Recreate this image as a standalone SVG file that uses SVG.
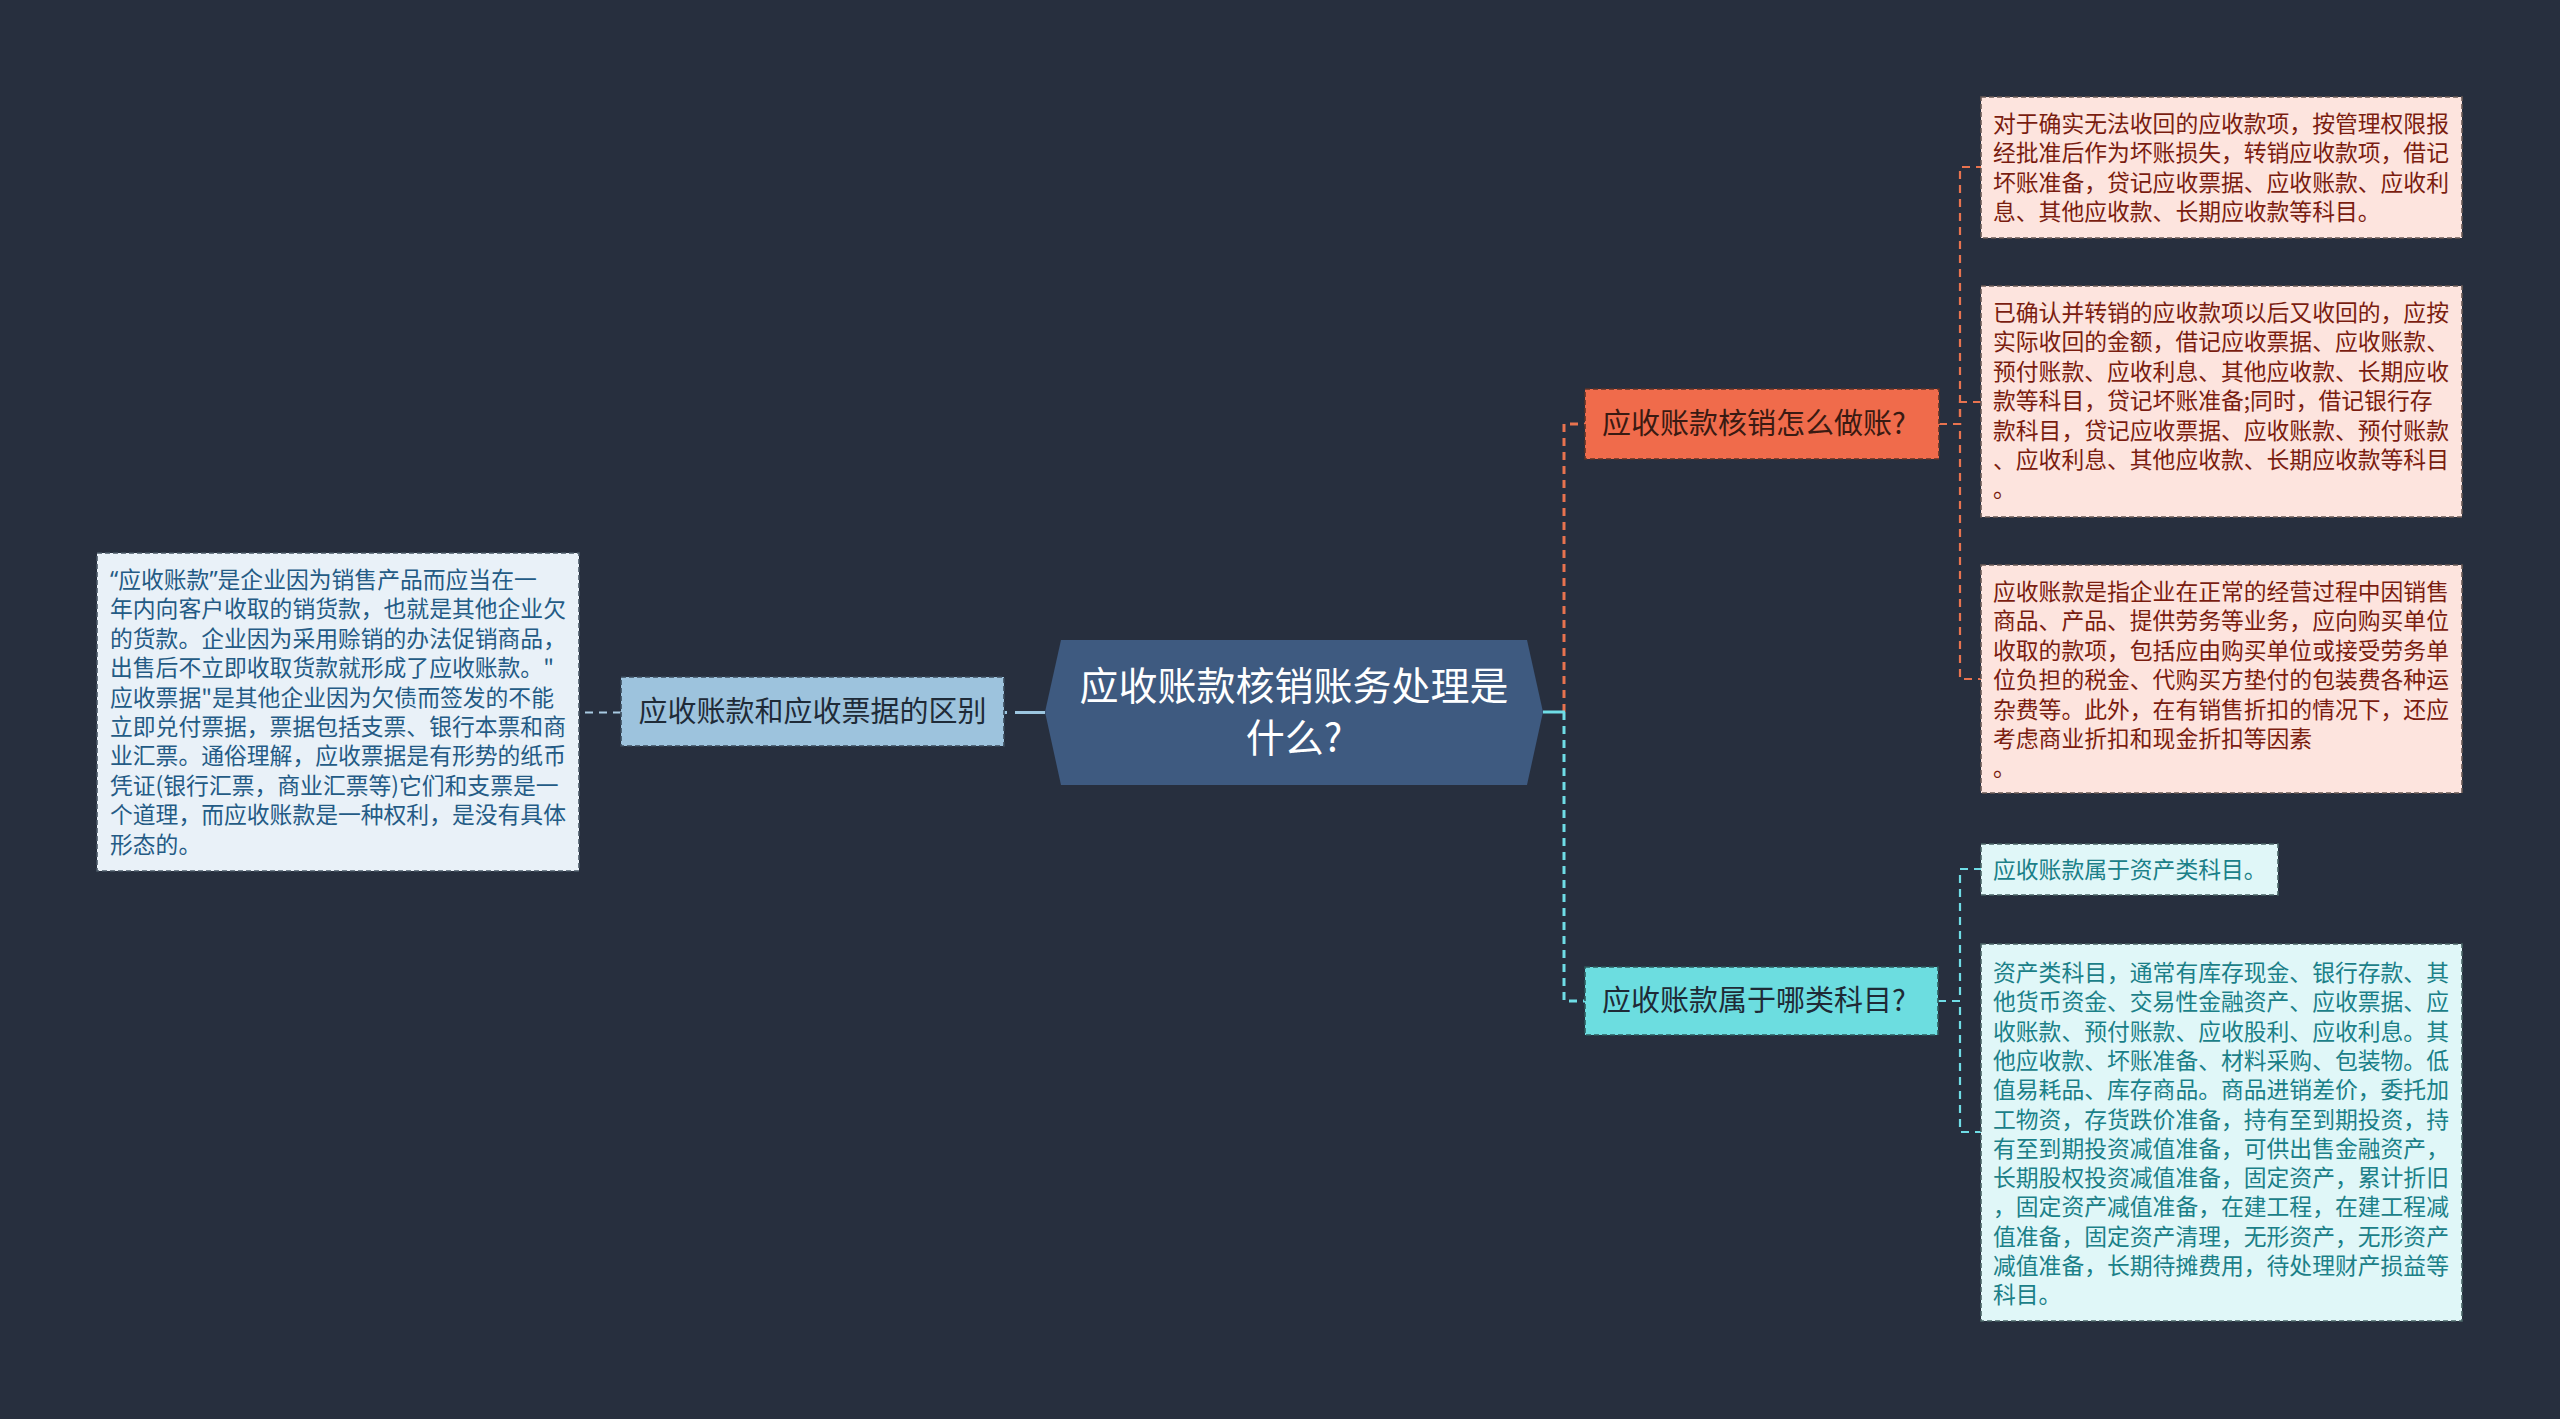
<svg xmlns="http://www.w3.org/2000/svg" width="2560" height="1419" viewBox="0 0 2560 1419">
<style>
text{font-family:"Noto Sans CJK SC","Noto Sans",sans-serif;}
.d{font-size:22.8px;}
.t{font-size:29px;}
.c{font-size:39px;fill:#ffffff;}
.q{font-family:"Noto Sans","Liberation Sans",sans-serif;}
.bd{stroke-width:1.6;stroke-dasharray:5 3;}
.ln{fill:none;stroke-dasharray:8 6;}
</style>
<rect x="0" y="0" width="2560" height="1419" fill="#272f3e"/>
<g id="connectors">
  <path class="ln" d="M621,712.5 H579" stroke="#a9cbe2" stroke-width="2"/>
  <path d="M1045,712.5 H1004" fill="none" stroke="#9cc6e0" stroke-width="3" stroke-dasharray="30 8"/>
  <path class="ln" d="M1564,712 V424 H1585" stroke="#e8734f" stroke-width="3"/>
  <path class="ln" d="M1564,712 V1001 H1585" stroke="#6fdde6" stroke-width="3"/>
  <path d="M1543,712 H1565" fill="none" stroke="#6fdde6" stroke-width="3"/>
  <path class="ln" d="M1939,424 H1960 V167 H1981" stroke="#e8734f" stroke-width="2.2"/>
  <path class="ln" d="M1939,424 H1960 V402 H1981" stroke="#e8734f" stroke-width="2.2"/>
  <path class="ln" d="M1939,424 H1960 V679 H1981" stroke="#e8734f" stroke-width="2.2"/>
  <path class="ln" d="M1938,1001 H1960 V869 H1981" stroke="#6fdde6" stroke-width="2.2"/>
  <path class="ln" d="M1938,1001 H1960 V1132 H1981" stroke="#6fdde6" stroke-width="2.2"/>
</g>
<g id="center">
  <polygon points="1045,712 1061,640 1527,640 1543,712 1527,785 1061,785" fill="#3e5a80"/>
  <text class="c" x="1294" y="700" text-anchor="middle">应收账款核销账务处理是</text>
  <text class="c" x="1294" y="752" text-anchor="middle">什么?</text>
</g>
<g id="left-node">
  <rect class="bd" x="621" y="677" width="383" height="69" fill="#9dc3dd" stroke="#3a4a5a"/>
  <text class="t" x="812.5" y="722" text-anchor="middle" fill="#1f2b38">应收账款和应收票据的区别</text>
</g>
<g id="left-detail">
  <rect class="bd" x="97" y="553" width="482" height="318" fill="#e9f1f8" stroke="#4a5866"/>
  <text class="d" fill="#245b85">
    <tspan x="110" y="588"><tspan class="q">“</tspan>应收账款<tspan class="q">”</tspan>是企业因为销售产品而应当在一</tspan>
    <tspan x="110" y="617.4">年内向客户收取的销货款，也就是其他企业欠</tspan>
    <tspan x="110" y="646.8">的货款。企业因为采用赊销的办法促销商品，</tspan>
    <tspan x="110" y="676.2">出售后不立即收取货款就形成了应收账款。"</tspan>
    <tspan x="110" y="705.6">应收票据"是其他企业因为欠债而签发的不能</tspan>
    <tspan x="110" y="735">立即兑付票据，票据包括支票、银行本票和商</tspan>
    <tspan x="110" y="764.4">业汇票。通俗理解，应收票据是有形势的纸币</tspan>
    <tspan x="110" y="793.8">凭证(银行汇票，商业汇票等)它们和支票是一</tspan>
    <tspan x="110" y="823.2">个道理，而应收账款是一种权利，是没有具体</tspan>
    <tspan x="110" y="852.6">形态的。</tspan>
  </text>
</g>
<g id="orange-node">
  <rect class="bd" x="1585" y="389" width="354" height="70" fill="#f06b4b" stroke="#5a3328"/>
  <text class="t" x="1602" y="434" fill="#3a1a12">应收账款核销怎么做账?</text>
</g>
<g id="pink-1">
  <rect class="bd" x="1981" y="97" width="481" height="141" fill="#fde4de" stroke="#6a5a56"/>
  <text class="d" fill="#7a1d10">
    <tspan x="1993" y="132">对于确实无法收回的应收款项，按管理权限报</tspan>
    <tspan x="1993" y="161.4">经批准后作为坏账损失，转销应收款项，借记</tspan>
    <tspan x="1993" y="190.8">坏账准备，贷记应收票据、应收账款、应收利</tspan>
    <tspan x="1993" y="220.2">息、其他应收款、长期应收款等科目。</tspan>
  </text>
</g>
<g id="pink-2">
  <rect class="bd" x="1981" y="286" width="481" height="231" fill="#fde4de" stroke="#6a5a56"/>
  <text class="d" fill="#7a1d10">
    <tspan x="1993" y="321">已确认并转销的应收款项以后又收回的，应按</tspan>
    <tspan x="1993" y="350.4">实际收回的金额，借记应收票据、应收账款、</tspan>
    <tspan x="1993" y="379.8">预付账款、应收利息、其他应收款、长期应收</tspan>
    <tspan x="1993" y="409.2">款等科目，贷记坏账准备;同时，借记银行存</tspan>
    <tspan x="1993" y="438.6">款科目，贷记应收票据、应收账款、预付账款</tspan>
    <tspan x="1993" y="468">、应收利息、其他应收款、长期应收款等科目</tspan>
    <tspan x="1993" y="497.4">。</tspan>
  </text>
</g>
<g id="pink-3">
  <rect class="bd" x="1981" y="565" width="481" height="228" fill="#fde4de" stroke="#6a5a56"/>
  <text class="d" fill="#7a1d10">
    <tspan x="1993" y="600">应收账款是指企业在正常的经营过程中因销售</tspan>
    <tspan x="1993" y="629.4">商品、产品、提供劳务等业务，应向购买单位</tspan>
    <tspan x="1993" y="658.8">收取的款项，包括应由购买单位或接受劳务单</tspan>
    <tspan x="1993" y="688.2">位负担的税金、代购买方垫付的包装费各种运</tspan>
    <tspan x="1993" y="717.6">杂费等。此外，在有销售折扣的情况下，还应</tspan>
    <tspan x="1993" y="747">考虑商业折扣和现金折扣等因素</tspan>
    <tspan x="1993" y="776.4">。</tspan>
  </text>
</g>
<g id="cyan-node">
  <rect class="bd" x="1585" y="967" width="353" height="68" fill="#6cdde0" stroke="#2d5a5c"/>
  <text class="t" x="1602" y="1011" fill="#1e2a36">应收账款属于哪类科目?</text>
</g>
<g id="cyan-1">
  <rect class="bd" x="1981" y="844" width="297" height="51" fill="#e0f7f8" stroke="#4a6466"/>
  <text class="d" x="1993" y="878" fill="#1b8088">应收账款属于资产类科目。</text>
</g>
<g id="cyan-2">
  <rect class="bd" x="1981" y="944" width="481" height="377" fill="#e0f7f8" stroke="#4a6466"/>
  <text class="d" fill="#1b8088">
    <tspan x="1993" y="981">资产类科目，通常有库存现金、银行存款、其</tspan>
    <tspan x="1993" y="1010.3">他货币资金、交易性金融资产、应收票据、应</tspan>
    <tspan x="1993" y="1039.6">收账款、预付账款、应收股利、应收利息。其</tspan>
    <tspan x="1993" y="1068.9">他应收款、坏账准备、材料采购、包装物。低</tspan>
    <tspan x="1993" y="1098.2">值易耗品、库存商品。商品进销差价，委托加</tspan>
    <tspan x="1993" y="1127.5">工物资，存货跌价准备，持有至到期投资，持</tspan>
    <tspan x="1993" y="1156.8">有至到期投资减值准备，可供出售金融资产，</tspan>
    <tspan x="1993" y="1186.1">长期股权投资减值准备，固定资产，累计折旧</tspan>
    <tspan x="1993" y="1215.4">，固定资产减值准备，在建工程，在建工程减</tspan>
    <tspan x="1993" y="1244.7">值准备，固定资产清理，无形资产，无形资产</tspan>
    <tspan x="1993" y="1274">减值准备，长期待摊费用，待处理财产损益等</tspan>
    <tspan x="1993" y="1303.3">科目。</tspan>
  </text>
</g>
</svg>
